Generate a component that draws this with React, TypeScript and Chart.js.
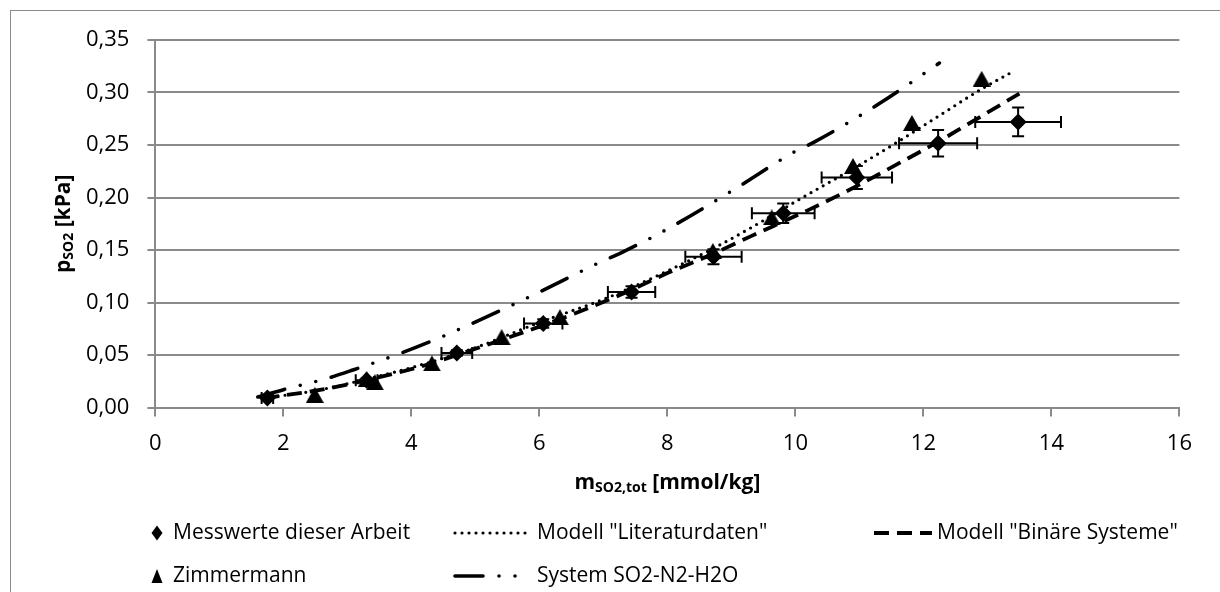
import React, { useEffect, useRef } from 'react';
import { Chart, registerables } from 'chart.js';

Chart.register(...registerables);

const FONT = "'Open Sans', 'DejaVu Sans', sans-serif";

// Messwerte dieser Arbeit (with 5 % error bars)
const messX = [1.75, 3.3, 4.71, 6.06, 7.44, 8.72, 9.81, 10.96, 12.23, 13.48];
const messY = [0.009, 0.026, 0.052, 0.08, 0.11, 0.1436, 0.185, 0.219, 0.2516, 0.272];
const messXErr = [0.09, 0.17, 0.24, 0.3, 0.37, 0.44, 0.49, 0.55, 0.61, 0.67];
const messYErr = [0.0005, 0.0013, 0.0026, 0.004, 0.0055, 0.0072, 0.0093, 0.011, 0.0126, 0.0136];

// Zimmermann
const zimX = [2.49, 3.3, 3.43, 4.32, 5.41, 6.32, 8.71, 9.63, 10.9, 11.82, 12.91];
const zimY = [0.012, 0.027, 0.024, 0.042, 0.067, 0.086, 0.149, 0.181, 0.23, 0.271, 0.313];

// Modell "Literaturdaten"
const litX = [1.7, 2.5, 3.3, 4.0, 5.0, 6.0, 7.0, 7.5, 8.0, 8.7, 9.3, 10.0, 11.0, 11.6, 12.3, 12.9, 13.4];
const litY = [0.009, 0.016, 0.027, 0.038, 0.057, 0.081, 0.103, 0.116, 0.13, 0.151, 0.171, 0.196, 0.231, 0.253, 0.28, 0.303, 0.32];

// Modell "Binäre Systeme"
const binX = [1.7, 2.5, 3.3, 4.2, 5.1, 6.0, 6.7, 7.4, 8.0, 8.7, 9.3, 10.2, 10.9, 11.6, 12.2, 12.7, 13.5];
const binY = [0.009, 0.016, 0.026, 0.04, 0.058, 0.077, 0.093, 0.111, 0.128, 0.146, 0.163, 0.188, 0.209, 0.232, 0.252, 0.27, 0.299];

// System SO2-N2-H2O
const sysX = [1.6, 2.0, 2.7, 3.1, 3.8, 4.5, 5.2, 5.9, 6.9, 7.3, 8.0, 9.0, 10.0, 10.3, 11.3, 12.25];
const sysY = [0.01, 0.017, 0.028, 0.036, 0.051, 0.068, 0.087, 0.107, 0.137, 0.148, 0.17, 0.206, 0.244, 0.253, 0.289, 0.328];

const xMin = 0, xMax = 16, xStep = 2;
const yMin = 0, yMax = 0.35, yStep = 0.05;

const legendLabels = ['Messwerte dieser Arbeit', 'Zimmermann', 'Modell "Literaturdaten"', 'Modell "Binäre Systeme"', 'System SO2-N2-H2O'];

const GRID = '#8a8a8a';
const SYS_DASH = [28, 16, 0, 16, 0, 16];
const LIT_DASH = [0, 7];
const BIN_DASH = [15, 8];

function makeTriangle(w: number, h: number) {
  const c = document.createElement('canvas');
  c.width = w; c.height = h;
  const g = c.getContext('2d')!;
  g.fillStyle = '#000';
  g.beginPath();
  g.moveTo(w / 2, 0); g.lineTo(w, h); g.lineTo(0, h); g.closePath();
  g.fill();
  return c;
}

const toPts = (xs: number[], ys: number[]) => xs.map((x, i) => ({ x, y: ys[i] }));

function drawParts(ctx: CanvasRenderingContext2D, parts: { t: string; size: number; dy: number }[], cx: number, cy: number) {
  let total = 0;
  const widths = parts.map(p => { ctx.font = `bold ${p.size}px ${FONT}`; const w = ctx.measureText(p.t).width; total += w; return w; });
  let x = cx - total / 2;
  ctx.textBaseline = 'middle';
  ctx.textAlign = 'left';
  parts.forEach((p, i) => { ctx.font = `bold ${p.size}px ${FONT}`; ctx.fillText(p.t, x, cy + p.dy); x += widths[i]; });
}

const errorBarPlugin = {
  id: 'errorBars',
  beforeDatasetsDraw(chart: any) {
    const { ctx, scales } = chart;
    const xs = scales.x, ys = scales.y;
    ctx.save();
    ctx.strokeStyle = '#000';
    ctx.lineWidth = 2;
    const cap = 6;
    messX.forEach((mx, i) => {
      const px = xs.getPixelForValue(mx), py = ys.getPixelForValue(messY[i]);
      const x1 = xs.getPixelForValue(mx - messXErr[i]), x2 = xs.getPixelForValue(mx + messXErr[i]);
      const y1 = ys.getPixelForValue(messY[i] - messYErr[i]), y2 = ys.getPixelForValue(messY[i] + messYErr[i]);
      ctx.beginPath();
      ctx.moveTo(x1, py); ctx.lineTo(x2, py);
      ctx.moveTo(x1, py - cap); ctx.lineTo(x1, py + cap);
      ctx.moveTo(x2, py - cap); ctx.lineTo(x2, py + cap);
      ctx.moveTo(px, y1); ctx.lineTo(px, y2);
      ctx.moveTo(px - cap, y1); ctx.lineTo(px + cap, y1);
      ctx.moveTo(px - cap, y2); ctx.lineTo(px + cap, y2);
      ctx.stroke();
    });
    ctx.restore();
  },
};

const decorPlugin = {
  id: 'decor',
  afterDraw(chart: any) {
    const { ctx, chartArea } = chart;
    ctx.save();
    ctx.fillStyle = '#000';
    // x title
    const cx = (chartArea.left + chartArea.right) / 2;
    drawParts(ctx, [
      { t: 'm', size: 21, dy: 0 },
      { t: 'SO2,tot', size: 14, dy: 5 },
      { t: ' [mmol/kg]', size: 21, dy: 0 },
    ], cx, 483);
    // y title
    ctx.save();
    ctx.translate(64, (chartArea.top + chartArea.bottom) / 2);
    ctx.rotate(-Math.PI / 2);
    drawParts(ctx, [
      { t: 'p', size: 21, dy: 0 },
      { t: 'SO2', size: 14, dy: 5 },
      { t: ' [kPa]', size: 21, dy: 0 },
    ], 0, 0);
    ctx.restore();

    // legend
    const r1 = 533, r2 = 576;
    ctx.font = `21px ${FONT}`;
    ctx.textBaseline = 'middle';
    ctx.textAlign = 'left';
    // diamond
    ctx.beginPath();
    ctx.moveTo(157, r1 - 7.5); ctx.lineTo(162.5, r1); ctx.lineTo(157, r1 + 7.5); ctx.lineTo(151.5, r1); ctx.closePath();
    ctx.fill();
    ctx.fillText(legendLabels[0], 173, r1);
    // triangle
    ctx.beginPath();
    ctx.moveTo(157, r2 - 7); ctx.lineTo(162.5, r2 + 7); ctx.lineTo(151.5, r2 + 7); ctx.closePath();
    ctx.fill();
    ctx.fillText(legendLabels[1], 173, r2);

    ctx.strokeStyle = '#000';
    // dotted
    ctx.lineWidth = 3.2; ctx.lineCap = 'round'; ctx.setLineDash(LIT_DASH);
    ctx.beginPath(); ctx.moveTo(455, r1); ctx.lineTo(530, r1); ctx.stroke();
    ctx.fillText(legendLabels[2], 537, r1);
    // dashed
    ctx.lineWidth = 3.8; ctx.lineCap = 'butt'; ctx.setLineDash(BIN_DASH);
    ctx.beginPath(); ctx.moveTo(874, r1); ctx.lineTo(932, r1); ctx.stroke();
    ctx.fillText(legendLabels[3], 937, r1);
    // dash-dot-dot
    ctx.lineWidth = 3.6; ctx.lineCap = 'round'; ctx.setLineDash(SYS_DASH);
    ctx.beginPath(); ctx.moveTo(455, r2); ctx.lineTo(530, r2); ctx.stroke();
    ctx.setLineDash([]);
    ctx.fillText(legendLabels[4], 537, r2);
    ctx.restore();
  },
};

export default function App() {
  const ref = useRef<HTMLCanvasElement | null>(null);
  useEffect(() => {
    const tri = makeTriangle(18, 16);
    const chart = new Chart(ref.current!, {
      type: 'scatter',
      data: {
        datasets: [
          {
            label: legendLabels[0], data: toPts(messX, messY), showLine: false,
            pointStyle: 'rectRot', pointRadius: 8.5, backgroundColor: '#000', borderColor: '#000', borderWidth: 0, order: 0,
          },
          {
            label: legendLabels[1], data: toPts(zimX, zimY), showLine: false,
            pointStyle: tri as any, pointRadius: 9, backgroundColor: '#000', borderColor: '#000', borderWidth: 0, order: 0,
          },
          {
            label: legendLabels[2], data: toPts(litX, litY), showLine: true, pointRadius: 0,
            borderColor: '#000', borderWidth: 3.2, borderDash: LIT_DASH, borderCapStyle: 'round',
            cubicInterpolationMode: 'monotone', fill: false, order: 1,
          },
          {
            label: legendLabels[3], data: toPts(binX, binY), showLine: true, pointRadius: 0,
            borderColor: '#000', borderWidth: 3.8, borderDash: BIN_DASH, borderCapStyle: 'butt',
            cubicInterpolationMode: 'monotone', fill: false, order: 1,
          },
          {
            label: legendLabels[4], data: toPts(sysX, sysY), showLine: true, pointRadius: 0,
            borderColor: '#000', borderWidth: 3.6, borderDash: SYS_DASH, borderCapStyle: 'round',
            cubicInterpolationMode: 'monotone', fill: false, order: 1,
          },
        ] as any,
      },
      options: {
        responsive: false,
        animation: false,
        devicePixelRatio: 1,
        events: [],
        layout: { padding: { left: 0, right: 40.6, top: 40, bottom: 0 } },
        plugins: { legend: { display: false }, tooltip: { enabled: false }, title: { display: false } },
        scales: {
          x: {
            type: 'linear', min: xMin, max: xMax,
            afterFit: (s: any) => { s.height = 184.5; },
            ticks: { stepSize: xStep, color: '#000', font: { family: FONT, size: 22 }, padding: 14, maxRotation: 0 },
            grid: { drawOnChartArea: false, drawTicks: true, tickLength: 9, color: GRID, lineWidth: 2 },
            border: { color: GRID, width: 2 },
          },
          y: {
            type: 'linear', min: yMin, max: yMax,
            afterFit: (s: any) => { s.width = 155.4; },
            ticks: {
              stepSize: yStep, color: '#000', font: { family: FONT, size: 22 }, padding: 18,
              callback: (v: any) => Number(v).toFixed(2).replace('.', ','),
            },
            grid: { drawOnChartArea: true, drawTicks: true, tickLength: 8, color: GRID, lineWidth: 2 },
            border: { color: GRID, width: 2 },
          },
        },
      },
      plugins: [errorBarPlugin, decorPlugin],
    });
    return () => chart.destroy();
  }, []);

  return (
    <div style={{ position: 'fixed', left: 0, top: 0, width: 1220, height: 592, overflow: 'hidden', background: '#fff' }}>
      <div style={{ position: 'absolute', left: 10, top: 10, width: 1400, height: 800, border: '1px solid #8a8a8a', boxSizing: 'border-box' }} />
      <canvas ref={ref} width={1220} height={592} style={{ position: 'absolute', left: 0, top: 0, width: 1220, height: 592 }} />
    </div>
  );
}
